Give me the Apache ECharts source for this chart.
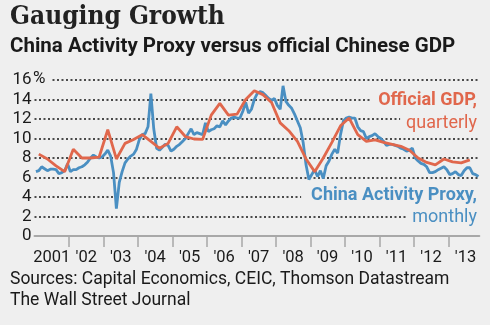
<!DOCTYPE html>
<html>
<head>
<meta charset="utf-8">
<script src="https://cdn.jsdelivr.net/npm/echarts@6/dist/echarts.min.js"></script>
<style>
html,body{margin:0;padding:0;background:#efefef;}
#chart{width:490px;height:325px;}
</style>
</head>
<body>
<div id="chart"></div>
<script>
// ---- data ----
const yearLabels = ["2001","'02","'03","'04","'05","'06","'07","'08","'09","'10","'11","'12","'13"];
const firstYear = 2001;
// Official GDP, quarterly, % y/y, 2001Q1 .. 2013Q3
const gdpQuarterly = [
  8.4, 7.9, 7.2, 6.6,
  8.9, 8.0, 8.0, 8.1,
  10.9, 7.9, 9.5, 9.9,
  10.4, 9.7, 9.0, 9.5,
  11.2, 10.2, 9.95, 9.9,
  12.4, 13.6, 12.4, 12.5,
  14.0, 14.9, 14.5, 13.7,
  11.6, 10.8, 9.7, 7.9,
  6.6, 8.0, 9.6, 11.3,
  12.1, 10.4, 9.7, 9.85,
  9.6, 9.4, 9.2, 8.8,
  8.0, 7.55, 7.3, 7.9,
  7.6, 7.5, 7.8
];
// China Activity Proxy, monthly, % y/y, Jan 2001 .. Nov 2013
const proxyMonthly = [
  6.6, 6.7, 7.1, 6.9, 6.7, 6.85, 6.85, 6.8, 6.4, 6.5, 6.7, 7.4,
  6.6, 6.8, 6.8, 7.0, 7.1, 7.3, 7.6, 8.0, 8.3, 8.1, 8.0, 8.1,
  8.4, 8.8, 8.2, 6.5, 2.8, 5.5, 6.6, 7.5, 7.9, 8.2, 8.4, 8.9,
  9.9, 10.4, 10.5, 11.2, 14.6, 11.0, 9.0, 8.8, 9.1, 9.4, 9.3, 8.7,
  8.9, 9.2, 9.4, 9.7, 10.0, 10.5, 11.0, 10.4, 10.6, 10.5, 10.4, 11.6,
  10.7, 10.9, 11.0, 11.3, 11.2, 11.8, 11.4, 11.8, 12.1, 12.2, 12.1, 12.1,
  12.8, 13.7, 12.6, 13.0, 14.0, 14.6, 14.8, 14.7, 14.4, 14.1, 13.9, 14.1,
  13.4, 13.0, 15.4, 13.8, 13.4, 13.1, 12.5, 11.8, 11.1, 9.6, 7.3, 5.8,
  6.3, 6.8, 6.1, 6.7, 5.9, 7.2, 7.7, 8.4, 8.9, 8.5, 10.4, 11.8,
  12.1, 12.2, 12.1, 12.1, 11.2, 10.8, 10.7, 10.0, 10.2, 10.3, 10.5, 10.2,
  10.0, 9.7, 9.3, 9.4, 9.4, 9.3, 9.2, 9.0, 8.9, 8.7, 8.8, 9.0,
  8.0, 7.7, 7.45, 7.35, 7.1, 6.5, 6.5, 6.6, 6.8, 6.95, 7.1, 6.8,
  6.3, 6.4, 6.6, 6.3, 6.2, 6.7, 7.0, 7.0, 6.4, 6.3, 6.1
];

// ---- build series data in time units (years) ----
const gdpData = gdpQuarterly.map((v, i) => [firstYear + (i + 0.5) / 4, v]);
const proxyData = proxyMonthly.map((v, i) => [firstYear + (i + 0.5) / 12, v]);
const tickYears = yearLabels.slice(1).map((_, i) => firstYear + i + 1);
const labelYears = yearLabels.map((_, i) => firstYear + i + 0.5);

const BG = '#efefef';
const ORANGE = '#e0674c';
const BLUE = '#4a8fc2';
const SANS = 'Roboto, "Open Sans", sans-serif';

const chart = echarts.init(document.getElementById('chart'), null, {renderer: 'canvas'});
chart.setOption({
  backgroundColor: BG,
  animation: false,
  grid: {left: 34.5, right: 10.7, top: 80, bottom: 89, containLabel: false},
  xAxis: {
    type: 'value', min: firstYear, max: 2013.9,
    axisLine: {show: true, lineStyle: {color: '#a8a8a8', width: 2}},
    axisTick: {show: true, customValues: tickYears, length: 11, lineStyle: {color: '#a8a8a8', width: 1.5}},
    axisLabel: {
      customValues: labelYears, margin: 13,
      formatter: v => yearLabels[Math.round(v - firstYear - 0.5)],
      color: '#1a1a1a', fontFamily: SANS, fontSize: 16.5
    },
    splitLine: {show: false}
  },
  yAxis: {
    type: 'value', min: 0, max: 16, interval: 2,
    axisLine: {show: false}, axisTick: {show: false},
    axisLabel: {color: '#1a1a1a', fontFamily: SANS, fontSize: 17, margin: 3},
    splitLine: {show: true, showMinLine: false, lineStyle: {color: '#4a4a4a', width: 1.8, type: [2, 2.5]}}
  },
  series: [
    {type: 'line', name: 'China Activity Proxy', data: proxyData, showSymbol: false, z: 2,
     lineStyle: {color: BLUE, width: 2.8}, itemStyle: {color: BLUE}},
    {type: 'line', name: 'Official GDP', data: gdpData, showSymbol: false, z: 3,
     lineStyle: {color: ORANGE, width: 2.8}, itemStyle: {color: ORANGE}}
  ],
  graphic: [
    {type: 'text', left: 10, top: 4, z: 5, style: {text: 'Gauging Growth', fill: '#222',
      font: 'bold 26px "DejaVu Serif Condensed", "DejaVu Serif", serif'}},
    {type: 'text', left: 10, top: 36, z: 5, style: {text: 'China Activity Proxy versus official Chinese GDP', fill: '#1a1a1a',
      font: 'bold 20.5px ' + SANS}},
    {type: 'text', x: 33, y: 70, z: 1, style: {text: '%', fill: '#1a1a1a', font: '17px ' + SANS,
      backgroundColor: BG, padding: [0, 6, 0, 0]}},
    {type: 'text', x: 481, y: 91, z: 1, style: {text: 'Official GDP,', fill: ORANGE, align: 'right',
      font: 'bold 18px ' + SANS, backgroundColor: BG, padding: [0, 4, 0, 8]}},
    {type: 'text', x: 481, y: 114, z: 1, style: {text: 'quarterly', fill: ORANGE, align: 'right',
      font: '18px ' + SANS, backgroundColor: BG, padding: [0, 4, 0, 6]}},
    {type: 'text', x: 481, y: 186, z: 1, style: {text: 'China Activity Proxy,', fill: BLUE, align: 'right',
      font: 'bold 18px ' + SANS, backgroundColor: BG, padding: [0, 4, 0, 10]}},
    {type: 'text', x: 481, y: 208, z: 1, style: {text: 'monthly', fill: BLUE, align: 'right',
      font: '18px ' + SANS, backgroundColor: BG, padding: [0, 4, 0, 6]}},
    {type: 'text', left: 10, top: 271, z: 5, style: {text: 'Sources: Capital Economics, CEIC, Thomson Datastream', fill: '#1a1a1a',
      font: '17.5px ' + SANS}},
    {type: 'text', left: 10, top: 292, z: 5, style: {text: 'The Wall Street Journal', fill: '#1a1a1a',
      font: '17.5px ' + SANS}}
  ]
});
</script>
</body>
</html>
